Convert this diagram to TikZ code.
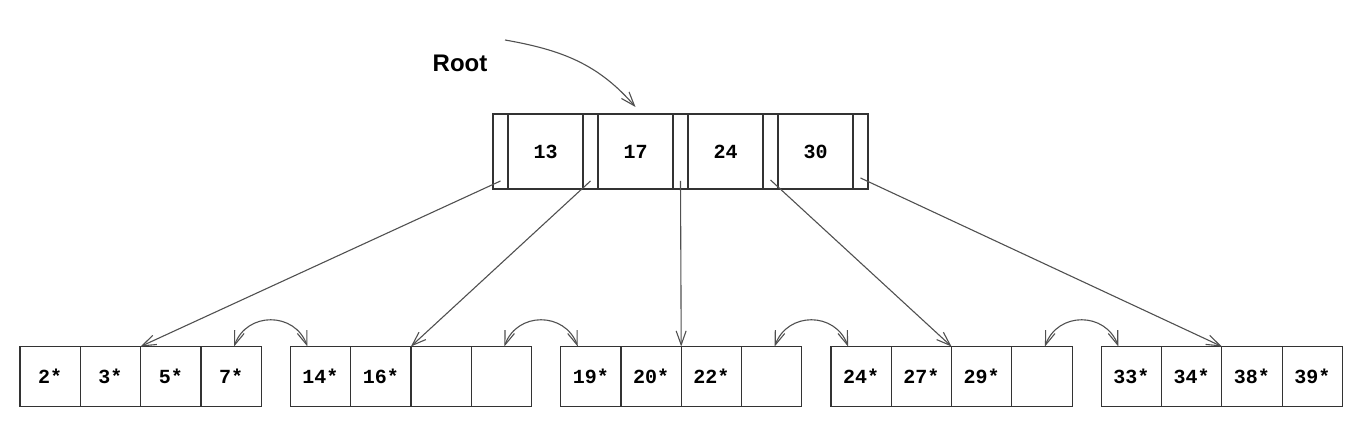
\documentclass[tikz,border=0pt]{standalone}
\usepackage{fontspec}
\setmonofont{Liberation Mono}
\setsansfont{Liberation Sans}
\usetikzlibrary{positioning,arrows.meta}
\definecolor{boxgray}{HTML}{333333}
\definecolor{arrowgray}{HTML}{505050}

\begin{document}
\begin{tikzpicture}[x=1pt, y=1pt, node distance=0pt,
    cell/.style={rectangle, draw=boxgray, line width=1.2pt, outer sep=0pt, inner sep=0pt,
        minimum width=60.3pt, minimum height=60pt, font=\fontsize{20}{24}\selectfont\ttfamily\bfseries},
    ptrcell/.style={cell, minimum width=15pt, minimum height=75pt},
    keycell/.style={cell, minimum width=75pt, minimum height=75pt},
    ptr/.style={draw=arrowgray, line width=1.1pt, -{Straight Barb[length=14pt,width=10pt]}},
    sib/.style={ptr, {Straight Barb[length=14pt,width=10pt]}-{Straight Barb[length=14pt,width=10pt]}}]
    \useasboundingbox (0,0) rectangle (1362,430);

    % root node
    \node[ptrcell] (p0) at (500.5,278.5) {};
    \node[keycell, right=of p0] (k1) {13};
    \node[ptrcell, right=of k1] (p1) {};
    \node[keycell, right=of p1] (k2) {17};
    \node[ptrcell, right=of k2] (p2) {};
    \node[keycell, right=of p2] (k3) {24};
    \node[ptrcell, right=of k3] (p3) {};
    \node[keycell, right=of p3] (k4) {30};
    \node[ptrcell, right=of k4] (p4) {};

    \node[font=\fontsize{24}{28}\selectfont\sffamily\bfseries] (rootlabel) at (460,367) {Root};
    \coordinate (rootstart) at (505,390);
    \draw[ptr] (rootstart) to[out=-10,in=131] ([yshift=7pt]k2.north);

    % leaf pages
    \foreach \i/\a/\b/\c/\d in {1/2*/3*/5*/7*, 2/14*/16*/{}/{}, 3/19*/20*/22*/{},
                                4/24*/27*/29*/{}, 5/33*/34*/38*/39*} {
        \node[cell] (l\i-1) at ({50.15+270.3*(\i-1)},53.5) {\a};
        \node[cell, right=of l\i-1] (l\i-2) {\b};
        \node[cell, right=of l\i-2] (l\i-3) {\c};
        \node[cell, right=of l\i-3] (l\i-4) {\d};
    }

    % child pointers
    \draw[ptr] ([yshift=8pt]p0.south) -- (l1-3.north west);
    \draw[ptr] ([yshift=8pt]p1.south) -- (l2-3.north west);
    \draw[ptr] ([yshift=8pt]p2.south) -- (l3-3.north west);
    \draw[ptr] ([yshift=9pt]p3.south) -- (l4-3.north west);
    \draw[ptr] ([yshift=11pt]p4.south) -- (l5-3.north west);

    % sibling links
    \foreach \i/\j in {1/2, 2/3, 3/4, 4/5}
        \draw[sib] ([xshift=3pt]l\i-4.north) to[out=70,in=110,looseness=1.3] ([xshift=-13pt]l\j-1.north);
\end{tikzpicture}
\end{document}
